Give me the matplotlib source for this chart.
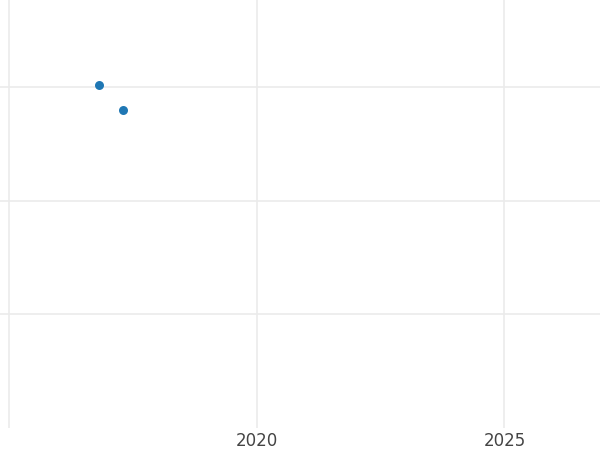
import matplotlib
matplotlib.use("Agg")
import matplotlib.pyplot as plt

# data
years = [2016.81, 2017.29]
values = [30.2, 28.0]
x_ticks = [2015, 2020, 2025]
x_tick_labels = ["", "2020", "2025"]
y_ticks = [10, 20, 30]

fig = plt.figure(figsize=(6, 4.5), dpi=100)
ax = fig.add_axes([0, 22 / 450, 1, 428 / 450])

ax.scatter(years, values, s=42, color="#1f77b4", zorder=3, linewidths=0)

ax.set_xlim(2014.81, 2026.93)
ax.set_ylim(-0.04, 37.67)
ax.set_xticks(x_ticks)
ax.set_xticklabels(x_tick_labels)
ax.set_yticks(y_ticks)
ax.set_yticklabels([])

ax.grid(True, color="#ebebeb", linewidth=1.2)
ax.set_axisbelow(True)
for s in ax.spines.values():
    s.set_visible(False)
ax.tick_params(axis="both", length=0)
ax.tick_params(axis="x", labelsize=12, labelcolor="#444444", pad=3)
for lbl in ax.get_xticklabels():
    lbl.set_fontfamily("DejaVu Sans")

fig.savefig("out.png", dpi=100, facecolor="white")
